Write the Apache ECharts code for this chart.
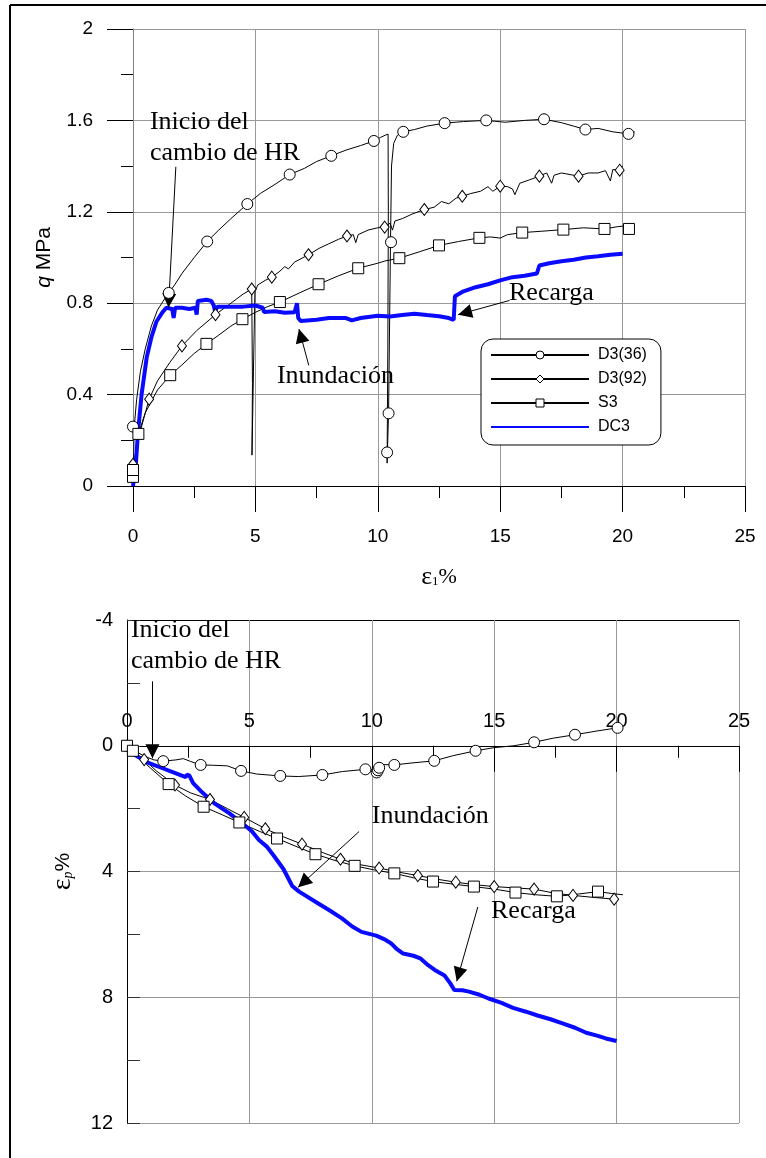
<!DOCTYPE html>
<html><head><meta charset="utf-8">
<script src="https://cdn.jsdelivr.net/npm/echarts@6/dist/echarts.min.js"></script>
<style>html,body{margin:0;padding:0;background:#fff}#c{width:766px;height:1158px}</style>
</head><body><div id="c"></div>
<script>
// ---------- Top chart: q (MPa) vs axial strain e1 (%) ----------
const qD336 = [[0,0],[0.02,0.1],[0.05,0.26],[0.15,0.38],[0.3,0.5],[0.5,0.6],[0.75,0.7],[1.0,0.77],[1.3,0.82],[1.46,0.845],[1.7,0.88],[2.0,0.93],[2.5,1.0],[3.03,1.07],[3.5,1.12],[4.0,1.17],[4.67,1.234],[5.2,1.28],[5.8,1.32],[6.4,1.363],[7.0,1.39],[7.5,1.42],[8.1,1.445],[8.7,1.47],[9.3,1.49],[9.84,1.51],[10.1,1.525],[10.3,1.535],[10.42,1.54],[10.43,1.2],[10.41,0.6],[10.38,0.1],[10.44,0.32],[10.52,1.07],[10.56,1.40],[10.65,1.5],[10.8,1.535],[11.04,1.55],[11.5,1.56],[12.0,1.575],[12.73,1.588],[13.5,1.595],[14.43,1.6],[15.2,1.592],[16.0,1.6],[16.79,1.605],[17.5,1.59],[18.0,1.575],[18.48,1.56],[19.0,1.565],[19.6,1.55],[20.24,1.541],[20.5,1.55]];
const qD336Marks = [[0,0.26],[1.46,0.845],[3.03,1.07],[4.67,1.234],[6.4,1.363],[8.1,1.445],[9.84,1.51],[10.38,0.147],[10.44,0.318],[10.54,1.067],[11.04,1.55],[12.73,1.588],[14.43,1.6],[16.79,1.605],[18.48,1.56],[20.24,1.541]];

const qD392 = [[0,0],[0.02,0.095],[0.2,0.2],[0.45,0.3],[0.66,0.38],[1.0,0.46],[1.5,0.54],[2.0,0.613],[2.6,0.68],[3.37,0.75],[4.0,0.8],[4.5,0.84],[4.85,0.862],[4.9,0.87],[4.88,0.45],[4.86,0.135],[4.92,0.5],[4.98,0.85],[5.1,0.88],[5.4,0.9],[5.67,0.914],[6.0,0.94],[6.2,0.96],[6.35,0.95],[6.6,0.98],[7.17,1.012],[7.6,1.04],[8.0,1.06],[8.4,1.08],[8.74,1.094],[9.0,1.1],[9.1,1.065],[9.2,1.1],[9.6,1.12],[10.0,1.13],[10.28,1.133],[10.5,1.15],[10.6,1.12],[10.7,1.16],[11.0,1.17],[11.4,1.19],[11.9,1.21],[12.3,1.22],[12.6,1.245],[12.9,1.235],[13.2,1.26],[13.45,1.268],[13.8,1.28],[14.2,1.29],[14.5,1.31],[14.7,1.29],[15.0,1.312],[15.3,1.31],[15.5,1.3],[15.6,1.275],[15.8,1.325],[16.2,1.34],[16.6,1.356],[16.9,1.37],[17.1,1.325],[17.2,1.36],[17.5,1.37],[18.2,1.356],[18.6,1.37],[19.0,1.37],[19.3,1.38],[19.5,1.335],[19.6,1.385],[19.88,1.382],[20.0,1.4]];
const qD392Marks = [[0,0.095],[0.66,0.38],[2.0,0.613],[3.37,0.75],[4.85,0.862],[5.67,0.914],[7.17,1.012],[8.74,1.094],[10.28,1.133],[11.9,1.21],[13.45,1.268],[15.0,1.312],[16.6,1.356],[18.2,1.356],[19.88,1.382]];

const qS3 = [[0,0],[0.02,0.04],[0.05,0.07],[0.15,0.15],[0.22,0.228],[0.5,0.32],[1.0,0.42],[1.52,0.485],[2.0,0.53],[2.5,0.58],[3.0,0.622],[3.5,0.66],[4.0,0.7],[4.47,0.73],[5.0,0.76],[5.5,0.785],[6.0,0.805],[6.8,0.845],[7.58,0.883],[8.4,0.92],[9.2,0.953],[10.0,0.975],[10.3,0.985],[10.88,0.997],[11.7,1.025],[12.5,1.053],[13.3,1.07],[14.15,1.086],[14.6,1.09],[15.0,1.085],[15.3,1.1],[15.9,1.109],[16.7,1.115],[17.58,1.122],[18.4,1.13],[19.26,1.125],[19.8,1.135],[20.26,1.14],[20.46,1.148]];
const qS3Marks = [[0,0.04],[0,0.07],[0.22,0.228],[1.52,0.485],[3.0,0.622],[4.47,0.73],[6.0,0.805],[7.58,0.883],[9.2,0.953],[10.88,0.997],[12.5,1.053],[14.15,1.086],[15.9,1.109],[17.58,1.122],[19.26,1.125],[20.26,1.125]];

const qDC3 = [[0,0],[0.12,0.1],[0.2,0.23],[0.35,0.4],[0.56,0.563],[0.75,0.65],[0.96,0.72],[1.2,0.76],[1.36,0.78],[1.6,0.775],[1.66,0.735],[1.72,0.78],[2.0,0.78],[2.3,0.775],[2.55,0.78],[2.6,0.75],[2.65,0.81],[3.0,0.815],[3.2,0.81],[3.3,0.79],[3.35,0.765],[3.45,0.785],[4.0,0.785],[4.5,0.785],[5.0,0.79],[5.3,0.78],[5.35,0.762],[5.8,0.765],[6.2,0.758],[6.6,0.76],[6.7,0.8],[6.75,0.735],[6.85,0.722],[7.5,0.728],[8.0,0.735],[8.7,0.735],[8.94,0.725],[9.3,0.735],[10.0,0.745],[10.5,0.742],[11.0,0.748],[11.5,0.754],[12.0,0.748],[12.5,0.743],[12.9,0.735],[13.1,0.727],[13.15,0.83],[13.5,0.852],[14.0,0.87],[14.5,0.883],[15.0,0.9],[15.5,0.914],[16.0,0.92],[16.5,0.93],[16.6,0.965],[17.0,0.975],[17.5,0.984],[18.0,0.99],[18.5,1.0],[19.0,1.005],[19.5,1.012],[20.0,1.016]];

// ---------- Bottom chart: volumetric strain ep (%) vs e1 (%) ----------
const pD336 = [[0,0],[0.3,0.15],[0.7,0.33],[1.1,0.45],[1.48,0.49],[2.0,0.45],[2.3,0.41],[2.6,0.5],[3.01,0.61],[3.5,0.62],[4.1,0.64],[4.66,0.8],[5.3,0.9],[6.26,0.96],[7.0,0.98],[7.98,0.93],[8.8,0.82],[9.74,0.75],[10.0,0.76],[10.2,0.84],[10.25,0.72],[10.3,0.64],[10.5,0.6],[10.92,0.61],[11.6,0.55],[12.55,0.48],[13.3,0.32],[14.24,0.16],[15.0,0.06],[15.8,0.0],[16.63,-0.11],[17.4,-0.24],[18.3,-0.35],[19.2,-0.47],[20.04,-0.57],[20.26,-0.58]];
const pD336Marks = [[0,0],[1.48,0.49],[3.01,0.61],[4.66,0.8],[6.26,0.96],[7.98,0.93],[9.74,0.75],[10.2,0.85],[10.25,0.78],[10.3,0.7],[10.92,0.61],[12.55,0.48],[14.24,0.16],[16.63,-0.11],[18.3,-0.35],[20.04,-0.57]];

const pD392 = [[0,0],[0.3,0.2],[0.7,0.44],[1.2,0.8],[1.96,1.25],[2.6,1.5],[3.39,1.71],[4.1,2.0],[4.79,2.28],[5.65,2.64],[6.4,2.9],[7.15,3.13],[8.0,3.4],[8.72,3.61],[9.5,3.78],[10.3,3.89],[11.1,4.02],[11.88,4.13],[12.7,4.25],[13.43,4.34],[14.2,4.42],[15.0,4.48],[15.8,4.52],[16.63,4.56],[17.4,4.68],[18.22,4.76],[19.0,4.82],[19.9,4.88]];
const pD392Marks = [[0.7,0.44],[1.96,1.25],[3.39,1.71],[4.79,2.28],[5.65,2.64],[7.15,3.13],[8.72,3.61],[10.3,3.89],[11.88,4.13],[13.43,4.34],[15.0,4.48],[16.63,4.56],[18.22,4.76],[19.9,4.88]];

const pS3 = [[0,0],[0.24,0.16],[0.8,0.6],[1.7,1.22],[2.4,1.6],[3.13,1.94],[3.9,2.2],[4.59,2.44],[5.4,2.72],[6.13,2.95],[6.9,3.2],[7.7,3.45],[8.5,3.65],[9.3,3.82],[10.1,3.95],[10.92,4.06],[11.7,4.2],[12.5,4.32],[13.3,4.4],[14.17,4.48],[15.0,4.56],[15.87,4.67],[16.7,4.74],[17.56,4.79],[18.4,4.72],[19.24,4.64],[19.8,4.7],[20.26,4.74]];
const pS3Marks = [[0,0],[0.24,0.16],[1.7,1.22],[3.13,1.94],[4.59,2.44],[6.13,2.95],[7.7,3.45],[9.3,3.82],[10.92,4.06],[12.5,4.32],[14.17,4.48],[15.87,4.67],[17.56,4.79],[19.24,4.64]];

const pDC3 = [[0,0],[0.3,0.28],[0.8,0.52],[1.4,0.7],[2.0,0.88],[2.4,1.0],[2.45,0.92],[2.55,0.95],[2.7,1.19],[3.0,1.43],[3.6,1.85],[4.2,2.16],[4.79,2.52],[5.1,2.72],[5.39,3.0],[5.7,3.2],[5.99,3.49],[6.39,3.92],[6.75,4.46],[7.03,4.64],[7.78,5.0],[8.3,5.25],[8.78,5.49],[9.2,5.75],[9.58,5.92],[10.18,6.04],[10.5,6.15],[10.78,6.28],[11.0,6.45],[11.28,6.61],[11.7,6.68],[11.98,6.76],[12.3,6.98],[12.57,7.13],[12.97,7.31],[13.2,7.55],[13.37,7.77],[13.7,7.78],[13.97,7.82],[14.4,7.92],[14.77,8.04],[15.3,8.18],[15.77,8.34],[16.3,8.46],[16.77,8.58],[17.3,8.7],[17.76,8.82],[18.3,8.97],[18.76,9.13],[19.2,9.22],[19.56,9.31],[20.0,9.39]];

// ---------- Annotations (data coordinates) ----------
const topArrows = [[[1.75,1.397],[1.45,0.781]],[[7.18,0.528],[6.78,0.687]],[[15.38,0.812],[13.28,0.750]]];
const botArrows = [[[1.04,-2.05],[1.04,0.40]],[[9.48,2.73],[6.99,4.50]],[[14.33,5.13],[13.47,7.49]]];
const topNotes = [['Inicio del\ncambio de HR',0.69,1.662],['Inundación',5.88,0.548],['Recarga',15.36,0.910]];
const botNotes = [['Inicio del\ncambio de HR',0.16,-4.17],['Inundación',10.0,1.74],['Recarga',14.87,4.76]];

const FS = 'Liberation Sans', FT = 'Liberation Serif';
const GRID = '#999';
const BLUE = '#0a0aff';
const BOT = {left:127, top:620, width:612, height:503, yMin:-4, yMax:12};

function curve(name, data, gi, opts) {
  return Object.assign({
    type:'line', name, data, xAxisIndex:gi, yAxisIndex:gi,
    symbol:'circle', showSymbol:false, silent:true, animation:false,
    lineStyle:{color:'#000', width:1},
    itemStyle:{color:'#fff', borderColor:'#000', borderWidth:1},
    z:2
  }, opts || {});
}
function marks(name, data, gi, symbol, size) {
  return {type:'scatter', name, data, xAxisIndex:gi, yAxisIndex:gi, symbol, symbolSize:size, silent:true,
    itemStyle:{color:'#fff', borderColor:'#000', borderWidth:1, opacity:1}, z:5};
}
function arrows(list) {
  return {silent:true, symbol:['none','triangle'], symbolSize:14, symbolOffset:[0,[0,7]],
    label:{show:false}, lineStyle:{color:'#000', width:1, type:'solid'},
    itemStyle:{color:'#000'}, emphasis:{disabled:true},
    data:list.map(a => [{coord:a[0]},{coord:a[1]}])};
}

const blueTop = curve('DC3', qDC3, 0, {symbol:'none', lineStyle:{color:BLUE, width:4}, itemStyle:{color:BLUE}, z:4, markLine:arrows(topArrows)});
const blueBot = curve('DC3', pDC3, 1, {symbol:'none', lineStyle:{color:BLUE, width:4}, itemStyle:{color:BLUE}, z:4, markLine:arrows(botArrows)});

const axisLbl = (m, extra) => Object.assign({margin:m, fontFamily:FS, fontSize:19, color:'#000'}, extra||{});

const option = {
  animation:false,
  backgroundColor:'#fff',
  grid:[{left:133, top:29, width:612, height:457}, {left:BOT.left, top:BOT.top, width:BOT.width, height:BOT.height}],
  legend:{
    data:[{name:'D3(36)'},{name:'D3(92)'},{name:'S3'},{name:'DC3', itemStyle:{opacity:0}}],
    left:481, top:339, orient:'vertical', itemWidth:98, itemHeight:10, itemGap:8,
    padding:[8,14,10,9], backgroundColor:'#fff', borderColor:'#000', borderWidth:1, borderRadius:12,
    selectedMode:false, itemStyle:{borderWidth:1},
    textStyle:{fontFamily:FS, fontSize:16, color:'#000', padding:[0,0,0,4]}, z:10
  },
  xAxis:[
    {gridIndex:0, type:'value', min:0, max:25, interval:5,
     axisLine:{show:true, onZero:false, lineStyle:{color:'#000'}},
     axisTick:{show:true, length:26, lineStyle:{color:'#000'}},
     minorTick:{show:true, splitNumber:2, length:12, lineStyle:{color:'#000'}},
     splitLine:{show:true, lineStyle:{color:GRID}},
     axisLabel:axisLbl(41),
     name:'{e|ε}{s|1}{p|%}', nameLocation:'middle', nameGap:78,
     nameTextStyle:{rich:{e:{fontFamily:FT, fontSize:26, color:'#000'}, s:{fontFamily:FT, fontSize:13, color:'#000', padding:[10,0,0,0]}, p:{fontFamily:FT, fontSize:22, color:'#000'}}}},
    {gridIndex:1, type:'value', min:0, max:25, interval:5, position:'top',
     // axis drawn where the (inverted) y axis crosses zero
     offset:-BOT.height * (0 - BOT.yMin) / (BOT.yMax - BOT.yMin),
     axisLine:{show:true, onZero:false, lineStyle:{color:'#000'}},
     axisTick:{show:true, inside:true, length:26, lineStyle:{color:'#000'}},
     minorTick:{show:true, splitNumber:2, length:12, lineStyle:{color:'#000'}},
     splitLine:{show:true, lineStyle:{color:GRID}},
     axisLabel:axisLbl(14, {fontSize:20})}
  ],
  yAxis:[
    {gridIndex:0, type:'value', min:0, max:2, interval:0.4,
     axisLine:{show:true, lineStyle:{color:'#808080'}},
     axisTick:{show:true, length:26, lineStyle:{color:'#000'}},
     minorTick:{show:true, splitNumber:2, length:12, lineStyle:{color:'#000'}},
     splitLine:{show:true, lineStyle:{color:GRID}},
     axisLabel:axisLbl(40),
     name:'{i|q} MPa', nameLocation:'middle', nameRotate:90, nameGap:78,
     nameTextStyle:{rich:{i:{fontFamily:FS, fontSize:21, fontStyle:'italic', color:'#000'}}, fontFamily:FS, fontSize:21, color:'#000'}},
    {gridIndex:1, type:'value', min:BOT.yMin, max:BOT.yMax, interval:4, inverse:true,
     axisLine:{show:true, onZero:false, lineStyle:{color:'#000'}},
     axisTick:{show:true, inside:true, length:13, lineStyle:{color:'#333'}},
     minorTick:{show:true, splitNumber:2, length:13, lineStyle:{color:'#333'}},
     splitLine:{show:true, lineStyle:{color:['#000',GRID,GRID,GRID,GRID]}},
     axisLabel:axisLbl(14, {fontSize:20}),
     name:'{e|ε}{s|p}{p|%}', nameLocation:'middle', nameRotate:90, nameGap:50,
     nameTextStyle:{rich:{e:{fontFamily:FT, fontSize:28, color:'#000'}, s:{fontFamily:FT, fontSize:14, fontStyle:'italic', color:'#000', padding:[10,0,0,0]}, p:{fontFamily:FS, fontSize:21, color:'#000'}}}}
  ],
  series:[
    curve('D3(36)', qD336, 0, {symbol:'circle'}), curve('D3(92)', qD392, 0, {symbol:'diamond'}), curve('S3', qS3, 0, {symbol:'rect'}), blueTop,
    marks('m36t', qD336Marks, 0, 'circle', 11), marks('m92t', qD392Marks, 0, 'diamond', [9,12]), marks('ms3t', qS3Marks, 0, 'rect', 11),
    curve('D3(36)', pD336, 1, {symbol:'circle'}), curve('D3(92)', pD392, 1, {symbol:'diamond'}), curve('S3', pS3, 1, {symbol:'rect'}), blueBot,
    marks('m36b', pD336Marks, 1, 'circle', 11), marks('m92b', pD392Marks, 1, 'diamond', [9,12]), marks('ms3b', pS3Marks, 1, 'rect', 11)
  ]
};

const chart = echarts.init(document.getElementById('c'), null, {renderer:'canvas'});
chart.setOption(option);

function noteEls(list, gi) {
  return list.map(n => {
    const p = chart.convertToPixel({gridIndex:gi}, [n[1], n[2]]);
    return {type:'text', z:20, silent:true, style:{text:n[0], x:p[0], y:p[1], fill:'#000',
      font:'26px "' + FT + '"', lineHeight:31, align:'left', verticalAlign:'top'}};
  });
}
chart.setOption({graphic:[
  {type:'line', z:30, silent:true, shape:{x1:10, y1:5, x2:766, y2:5}, style:{stroke:'#000', lineWidth:2}},
  {type:'line', z:30, silent:true, shape:{x1:10, y1:5, x2:10, y2:1158}, style:{stroke:'#000', lineWidth:2}}
].concat(noteEls(topNotes,0), noteEls(botNotes,1))});
</script>
</body></html>
